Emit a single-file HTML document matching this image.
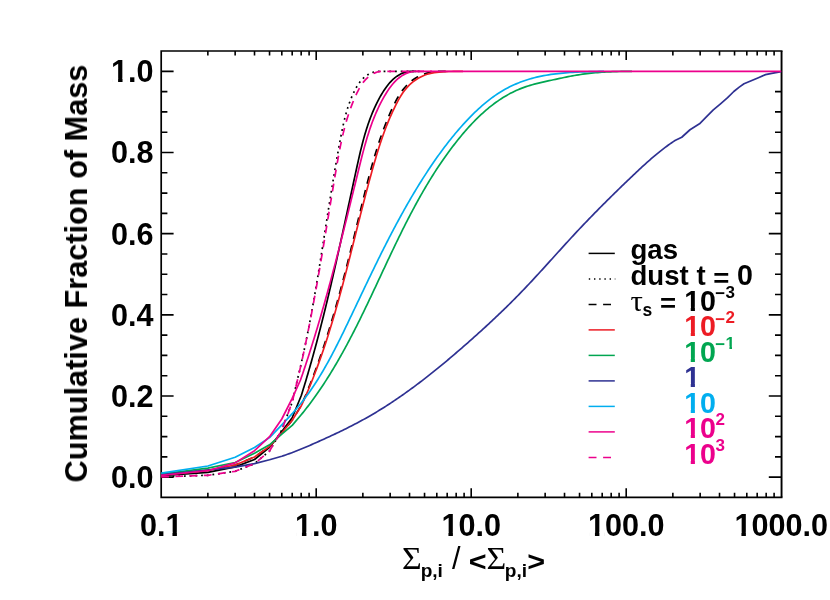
<!DOCTYPE html>
<html><head><meta charset="utf-8"><title>Cumulative Fraction of Mass</title>
<style>
html,body{margin:0;padding:0;background:#fff;}
body{width:830px;height:600px;overflow:hidden;}
svg{display:block;}
text{font-family:"Liberation Sans",sans-serif;font-weight:bold;font-kerning:none;}
.sym{font-family:"Liberation Serif",serif;font-weight:normal;}
</style></head><body>
<svg width="830" height="600" viewBox="0 0 830 600">
<rect x="0" y="0" width="830" height="600" fill="#fff"/>
<path d="M160.35 51.00H782.50M160.35 497.30H782.50M161.20 51.00V497.30" fill="none" stroke="#000" stroke-width="1.70"/>
<path d="M781.55 51.00V497.30" fill="none" stroke="#000" stroke-width="1.9"/>
<path d="M207.86 497.30v-4.50M207.86 51.00v4.50M235.15 497.30v-4.50M235.15 51.00v4.50M254.52 497.30v-4.50M254.52 51.00v4.50M269.54 497.30v-4.50M269.54 51.00v4.50M281.81 497.30v-4.50M281.81 51.00v4.50M292.19 497.30v-4.50M292.19 51.00v4.50M301.18 497.30v-4.50M301.18 51.00v4.50M309.11 497.30v-4.50M309.11 51.00v4.50M316.20 497.30v-9.00M316.20 51.00v9.00M362.86 497.30v-4.50M362.86 51.00v4.50M390.15 497.30v-4.50M390.15 51.00v4.50M409.52 497.30v-4.50M409.52 51.00v4.50M424.54 497.30v-4.50M424.54 51.00v4.50M436.81 497.30v-4.50M436.81 51.00v4.50M447.19 497.30v-4.50M447.19 51.00v4.50M456.18 497.30v-4.50M456.18 51.00v4.50M464.11 497.30v-4.50M464.11 51.00v4.50M471.20 497.30v-9.00M471.20 51.00v9.00M517.86 497.30v-4.50M517.86 51.00v4.50M545.15 497.30v-4.50M545.15 51.00v4.50M564.52 497.30v-4.50M564.52 51.00v4.50M579.54 497.30v-4.50M579.54 51.00v4.50M591.81 497.30v-4.50M591.81 51.00v4.50M602.19 497.30v-4.50M602.19 51.00v4.50M611.18 497.30v-4.50M611.18 51.00v4.50M619.11 497.30v-4.50M619.11 51.00v4.50M626.20 497.30v-9.00M626.20 51.00v9.00M672.86 497.30v-4.50M672.86 51.00v4.50M700.15 497.30v-4.50M700.15 51.00v4.50M719.52 497.30v-4.50M719.52 51.00v4.50M734.54 497.30v-4.50M734.54 51.00v4.50M746.81 497.30v-4.50M746.81 51.00v4.50M757.19 497.30v-4.50M757.19 51.00v4.50M766.18 497.30v-4.50M766.18 51.00v4.50M774.11 497.30v-4.50M774.11 51.00v4.50M161.20 477.17h12.40M781.20 477.17h-12.40M161.20 456.88h6.20M781.20 456.88h-6.20M161.20 436.59h6.20M781.20 436.59h-6.20M161.20 416.29h6.20M781.20 416.29h-6.20M161.20 396.00h12.40M781.20 396.00h-12.40M161.20 375.71h6.20M781.20 375.71h-6.20M161.20 355.42h6.20M781.20 355.42h-6.20M161.20 335.13h6.20M781.20 335.13h-6.20M161.20 314.83h12.40M781.20 314.83h-12.40M161.20 294.54h6.20M781.20 294.54h-6.20M161.20 274.25h6.20M781.20 274.25h-6.20M161.20 253.96h6.20M781.20 253.96h-6.20M161.20 233.67h12.40M781.20 233.67h-12.40M161.20 213.37h6.20M781.20 213.37h-6.20M161.20 193.08h6.20M781.20 193.08h-6.20M161.20 172.79h6.20M781.20 172.79h-6.20M161.20 152.50h12.40M781.20 152.50h-12.40M161.20 132.21h6.20M781.20 132.21h-6.20M161.20 111.91h6.20M781.20 111.91h-6.20M161.20 91.62h6.20M781.20 91.62h-6.20M161.20 71.33h12.40" stroke="#000" stroke-width="1.60" fill="none"/>
<g fill="none" stroke-width="1.70" stroke-linejoin="round">
<path d="M161.20 475.60L207.86 472.35L235.15 466.90L254.50 459.50L269.55 447.30L281.80 431.50L292.20 417.80L301.20 395.80L301.95 393.40L302.70 391.00L303.44 388.60L304.17 386.20L304.90 383.79L305.62 381.39L306.34 378.99L307.05 376.59L307.76 374.18L308.46 371.78L309.15 369.38L309.85 366.97L310.53 364.57L311.21 362.17L311.89 359.76L312.56 357.36L313.23 354.95L313.89 352.55L314.55 350.14L315.21 347.74L315.86 345.33L316.50 342.92L317.14 340.52L317.78 338.11L318.41 335.70L319.04 333.29L319.67 330.88L320.29 328.47L320.91 326.06L321.52 323.65L322.13 321.24L322.74 318.83L323.34 316.42L323.94 314.01L324.54 311.59L325.13 309.18L325.72 306.77L326.31 304.35L326.89 301.94L327.48 299.52L328.05 297.11L328.63 294.69L329.20 292.27L329.77 289.86L330.34 287.44L330.91 285.02L331.47 282.60L332.03 280.18L332.59 277.76L333.15 275.34L333.70 272.92L334.26 270.49L334.81 268.07L335.36 265.65L335.90 263.22L336.45 260.79L336.99 258.37L337.53 255.94L338.07 253.51L338.61 251.09L339.15 248.66L339.69 246.23L340.23 243.80L340.76 241.36L341.29 238.93L341.83 236.50L342.36 234.07L342.89 231.63L343.42 229.20L343.95 226.76L344.48 224.32L345.01 221.88L345.54 219.45L346.06 217.01L346.59 214.57L347.12 212.12L347.65 209.68L348.18 207.24L348.70 204.79L349.23 202.35L349.76 199.90L350.29 197.46L350.82 195.01L351.35 192.56L351.87 190.11L352.41 187.66L352.94 185.20L353.47 182.75L354.00 180.30L354.53 177.84L355.07 175.39L355.60 172.93L356.14 170.47L356.68 168.01L357.22 165.55L357.76 163.09L358.31 160.63L358.87 158.18L359.43 155.72L360.00 153.27L360.58 150.82L361.18 148.37L361.79 145.93L362.41 143.50L363.05 141.07L363.70 138.65L364.38 136.23L365.07 133.83L365.79 131.43L366.53 129.04L367.29 126.66L368.08 124.29L368.90 121.94L369.74 119.59L370.62 117.26L371.52 114.94L372.46 112.63L373.43 110.34L374.44 108.07L375.48 105.81L376.56 103.57L377.69 101.34L378.85 99.13L380.05 96.94L381.30 94.77L382.59 92.62L383.93 90.50L385.32 88.43L386.77 86.40L388.29 84.45L389.87 82.57L391.53 80.80L393.27 79.13L395.08 77.58L396.99 76.17L398.99 74.91L401.09 73.80L403.29 72.88L405.59 72.14L408.01 71.60L410.55 71.33L413.21 71.33L416.00 71.33" stroke="#000"/>
<path d="M161.20 476.80L207.86 475.30L235.15 471.30L254.50 463.70L269.55 451.00L281.80 430.00L292.20 402.20L297.30 380.00L297.83 377.82L298.36 375.64L298.88 373.47L299.40 371.29L299.91 369.11L300.42 366.92L300.92 364.74L301.41 362.56L301.90 360.38L302.39 358.19L302.87 356.01L303.35 353.82L303.82 351.64L304.29 349.45L304.75 347.26L305.21 345.08L305.67 342.89L306.12 340.70L306.56 338.51L307.00 336.32L307.44 334.13L307.88 331.94L308.31 329.75L308.73 327.56L309.16 325.36L309.58 323.17L309.99 320.98L310.41 318.78L310.82 316.59L311.22 314.39L311.63 312.20L312.03 310.00L312.42 307.81L312.82 305.61L313.21 303.41L313.60 301.22L313.99 299.02L314.37 296.82L314.75 294.62L315.13 292.42L315.51 290.22L315.88 288.02L316.25 285.82L316.62 283.62L316.99 281.42L317.36 279.22L317.72 277.02L318.08 274.82L318.44 272.62L318.80 270.41L319.16 268.21L319.52 266.01L319.87 263.81L320.23 261.60L320.58 259.40L320.93 257.20L321.28 254.99L321.63 252.79L321.98 250.58L322.33 248.38L322.68 246.17L323.02 243.97L323.37 241.76L323.71 239.56L324.06 237.35L324.41 235.15L324.75 232.94L325.10 230.74L325.44 228.53L325.79 226.33L326.13 224.12L326.48 221.91L326.82 219.71L327.17 217.50L327.51 215.30L327.86 213.09L328.21 210.88L328.56 208.68L328.91 206.47L329.26 204.26L329.61 202.06L329.96 199.85L330.31 197.65L330.67 195.44L331.02 193.23L331.38 191.03L331.74 188.82L332.10 186.62L332.46 184.41L332.82 182.20L333.19 180.00L333.55 177.79L333.92 175.59L334.29 173.38L334.67 171.18L335.04 168.97L335.42 166.77L335.80 164.56L336.18 162.36L336.57 160.16L336.95 157.95L337.34 155.75L337.73 153.54L338.13 151.34L338.53 149.14L338.93 146.94L339.33 144.73L339.74 142.53L340.15 140.33L340.57 138.13L340.99 135.93L341.41 133.73L341.85 131.53L342.29 129.33L342.75 127.14L343.23 124.96L343.72 122.77L344.23 120.59L344.76 118.42L345.31 116.26L345.89 114.10L346.49 111.95L347.12 109.81L347.79 107.67L348.48 105.55L349.21 103.44L349.98 101.33L350.79 99.24L351.63 97.16L352.52 95.10L353.46 93.04L354.44 91.01L355.48 89.01L356.57 87.05L357.73 85.15L358.97 83.32L360.28 81.57L361.67 79.91L363.15 78.36L364.73 76.93L366.40 75.63L368.18 74.47L370.07 73.46L372.06 72.61L374.15 71.92L376.31 71.39L378.54 71.33L380.83 71.33L383.18 71.33L385.57 71.33L388.00 71.33L424.00 71.33" stroke="#000" stroke-dasharray="1.8 3.9"/>
<path d="M161.20 475.00L207.86 470.40L235.15 465.00L254.50 457.00L269.55 446.40L281.80 433.00L292.20 420.30L301.20 405.50L302.59 402.34L303.96 399.17L305.31 395.99L306.63 392.80L307.94 389.61L309.24 386.41L310.51 383.20L311.76 379.98L313.00 376.76L314.22 373.53L315.42 370.30L316.61 367.06L317.78 363.81L318.94 360.56L320.07 357.30L321.20 354.03L322.31 350.76L323.40 347.49L324.48 344.21L325.55 340.92L326.61 337.63L327.65 334.34L328.68 331.04L329.69 327.73L330.70 324.43L331.69 321.11L332.67 317.80L333.64 314.48L334.60 311.15L335.56 307.83L336.50 304.50L337.43 301.17L338.35 297.83L339.27 294.49L340.17 291.15L341.07 287.81L341.96 284.46L342.85 281.11L343.73 277.76L344.60 274.41L345.46 271.06L346.32 267.70L347.18 264.35L348.03 260.99L348.87 257.63L349.71 254.27L350.55 250.91L351.38 247.55L352.21 244.19L353.04 240.83L353.87 237.47L354.69 234.11L355.51 230.75L356.33 227.39L357.15 224.03L357.97 220.67L358.79 217.32L359.61 213.96L360.43 210.61L361.25 207.25L362.07 203.90L362.90 200.55L363.72 197.20L364.55 193.86L365.38 190.51L366.22 187.17L367.07 183.83L367.93 180.50L368.80 177.17L369.68 173.84L370.57 170.52L371.48 167.20L372.41 163.88L373.35 160.57L374.32 157.26L375.30 153.96L376.31 150.66L377.34 147.37L378.40 144.09L379.49 140.81L380.60 137.54L381.75 134.27L382.93 131.01L384.14 127.76L385.38 124.51L386.67 121.27L387.99 118.04L389.34 114.82L390.74 111.60L392.19 108.40L393.69 105.22L395.26 102.09L396.91 99.02L398.65 96.03L400.50 93.13L402.46 90.35L404.56 87.71L406.80 85.21L409.20 82.88L411.76 80.73L414.50 78.78L417.41 77.05L420.48 75.52L423.67 74.21L426.97 73.12L430.36 72.25L433.83 71.60L437.35 71.33L440.89 71.33L444.45 71.33L448.00 71.33" stroke="#000" stroke-dasharray="7.8 6.4"/>
<path d="M161.20 475.00L207.86 470.40L235.15 465.00L254.50 457.00L269.55 446.40L281.80 433.00L292.20 420.30L301.20 406.00L302.19 403.83L303.18 401.65L304.15 399.47L305.11 397.28L306.06 395.10L307.00 392.90L307.93 390.71L308.85 388.51L309.76 386.31L310.66 384.11L311.55 381.90L312.43 379.69L313.30 377.47L314.17 375.26L315.02 373.04L315.86 370.81L316.70 368.59L317.52 366.36L318.34 364.13L319.15 361.89L319.95 359.66L320.74 357.42L321.53 355.18L322.30 352.93L323.07 350.69L323.83 348.44L324.59 346.18L325.34 343.93L326.08 341.67L326.81 339.42L327.54 337.16L328.25 334.89L328.97 332.63L329.68 330.36L330.38 328.09L331.07 325.82L331.76 323.55L332.44 321.27L333.12 318.99L333.79 316.72L334.46 314.44L335.12 312.15L335.78 309.87L336.43 307.59L337.08 305.30L337.72 303.01L338.36 300.72L339.00 298.43L339.63 296.14L340.25 293.84L340.88 291.55L341.49 289.25L342.11 286.95L342.72 284.66L343.33 282.36L343.94 280.05L344.54 277.75L345.14 275.45L345.74 273.15L346.34 270.84L346.93 268.54L347.52 266.23L348.11 263.92L348.70 261.62L349.29 259.31L349.87 257.00L350.46 254.69L351.04 252.38L351.62 250.07L352.20 247.76L352.78 245.45L353.36 243.14L353.94 240.83L354.52 238.52L355.09 236.21L355.67 233.90L356.25 231.59L356.83 229.27L357.41 226.96L357.99 224.65L358.57 222.34L359.15 220.03L359.73 217.72L360.32 215.41L360.90 213.10L361.49 210.79L362.08 208.48L362.67 206.17L363.26 203.86L363.86 201.56L364.45 199.25L365.05 196.94L365.65 194.64L366.26 192.33L366.87 190.03L367.48 187.72L368.09 185.42L368.71 183.12L369.33 180.82L369.95 178.52L370.58 176.22L371.21 173.93L371.85 171.63L372.49 169.34L373.13 167.04L373.78 164.75L374.44 162.46L375.10 160.17L375.78 157.89L376.45 155.61L377.14 153.33L377.84 151.05L378.55 148.78L379.27 146.51L380.00 144.24L380.75 141.98L381.51 139.73L382.28 137.48L383.07 135.23L383.87 132.99L384.69 130.75L385.53 128.53L386.38 126.30L387.26 124.09L388.15 121.88L389.07 119.67L390.00 117.48L390.96 115.29L391.94 113.11L392.95 110.94L393.97 108.78L395.03 106.62L396.11 104.48L397.21 102.34L398.35 100.22L399.52 98.12L400.74 96.05L402.02 94.04L403.35 92.07L404.76 90.18L406.25 88.36L407.81 86.61L409.45 84.95L411.15 83.38L412.93 81.89L414.78 80.50L416.69 79.20L418.67 78.01L420.71 76.92L422.81 75.93L424.97 75.06L427.19 74.30L429.47 73.66L431.80 73.12L434.17 72.68L436.57 72.33L438.99 72.05L441.44 71.84L443.89 71.69L446.35 71.59L448.81 71.52L451.25 71.48L453.67 71.45L456.06 71.44L458.42 71.42L460.74 71.39L463.00 71.33" stroke="#ed1c24"/>
<path d="M161.20 474.00L207.86 468.10L235.15 462.50L254.50 453.20L269.55 444.80L281.80 434.20L292.20 425.40L301.20 414.80L302.56 413.13L303.90 411.45L305.23 409.77L306.55 408.08L307.86 406.38L309.16 404.67L310.45 402.96L311.72 401.24L312.99 399.51L314.24 397.78L315.49 396.04L316.72 394.29L317.94 392.54L319.16 390.78L320.36 389.01L321.55 387.24L322.74 385.46L323.91 383.68L325.08 381.89L326.24 380.10L327.38 378.30L328.52 376.49L329.65 374.68L330.78 372.86L331.89 371.04L333.00 369.21L334.10 367.38L335.19 365.54L336.27 363.70L337.35 361.85L338.41 360.00L339.48 358.15L340.53 356.29L341.58 354.42L342.62 352.56L343.65 350.68L344.68 348.81L345.71 346.93L346.72 345.04L347.73 343.16L348.74 341.26L349.74 339.37L350.73 337.47L351.72 335.57L352.71 333.67L353.69 331.76L354.66 329.85L355.63 327.94L356.60 326.02L357.56 324.10L358.52 322.18L359.47 320.26L360.42 318.33L361.37 316.40L362.31 314.47L363.25 312.54L364.19 310.61L365.13 308.67L366.06 306.73L366.99 304.79L367.92 302.85L368.84 300.91L369.76 298.97L370.68 297.02L371.60 295.08L372.52 293.13L373.44 291.18L374.35 289.23L375.27 287.29L376.18 285.34L377.09 283.39L378.01 281.43L378.92 279.48L379.83 277.53L380.74 275.58L381.65 273.63L382.56 271.68L383.47 269.73L384.39 267.78L385.30 265.83L386.21 263.88L387.13 261.93L388.04 259.98L388.96 258.03L389.88 256.09L390.80 254.14L391.73 252.20L392.65 250.25L393.58 248.31L394.51 246.37L395.44 244.43L396.37 242.50L397.31 240.56L398.25 238.63L399.19 236.70L400.14 234.77L401.09 232.84L402.04 230.92L403.00 228.99L403.96 227.07L404.93 225.15L405.90 223.24L406.87 221.33L407.85 219.42L408.84 217.51L409.83 215.61L410.82 213.71L411.82 211.81L412.82 209.92L413.83 208.03L414.85 206.14L415.87 204.26L416.90 202.38L417.93 200.51L418.97 198.63L420.02 196.77L421.07 194.91L422.14 193.05L423.20 191.19L424.28 189.34L425.36 187.50L426.45 185.66L427.55 183.82L428.65 181.99L429.77 180.17L430.89 178.35L432.02 176.53L433.16 174.72L434.30 172.92L435.46 171.12L436.62 169.33L437.80 167.54L438.98 165.76L440.17 163.98L441.38 162.21L442.59 160.45L443.81 158.69L445.04 156.94L446.29 155.20L447.54 153.46L448.80 151.73L450.08 150.00L451.36 148.28L452.66 146.57L453.97 144.87L455.29 143.17L456.62 141.48L457.96 139.80L459.32 138.13L460.68 136.46L462.06 134.80L463.45 133.16L464.86 131.52L466.28 129.89L467.71 128.28L469.15 126.68L470.61 125.10L472.08 123.53L473.57 121.97L475.07 120.43L476.59 118.91L478.12 117.41L479.67 115.92L481.23 114.46L482.81 113.01L484.40 111.59L486.01 110.19L487.64 108.81L489.28 107.46L490.94 106.13L492.62 104.82L494.31 103.55L496.03 102.30L497.76 101.07L499.51 99.88L501.27 98.71L503.06 97.58L504.86 96.48L506.69 95.41L508.53 94.37L510.40 93.36L512.28 92.39L514.18 91.46L516.11 90.56L518.05 89.70L520.02 88.87L522.00 88.09L524.01 87.34L526.04 86.63L528.09 85.96L530.15 85.33L532.23 84.72L534.33 84.15L536.43 83.60L538.55 83.07L540.67 82.56L542.80 82.07L544.93 81.59L547.06 81.13L549.19 80.67L551.32 80.22L553.45 79.77L555.56 79.32L557.67 78.87L559.78 78.43L561.87 77.98L563.97 77.54L566.06 77.11L568.15 76.69L570.24 76.28L572.33 75.88L574.42 75.50L576.52 75.14L578.62 74.80L580.72 74.49L582.83 74.19L584.94 73.90L587.05 73.64L589.17 73.39L591.29 73.17L593.42 72.95L595.55 72.76L597.68 72.58L599.81 72.41L601.94 72.26L604.08 72.12L606.22 72.00L608.36 71.89L610.50 71.79L612.65 71.70L614.80 71.62L616.94 71.56L619.09 71.50L621.24 71.45L623.39 71.41L625.54 71.38L627.70 71.36L629.85 71.34L632.00 71.33" stroke="#00a651"/>
<path d="M161.20 474.60L207.86 470.00L235.15 467.10L254.50 463.60L269.55 459.80L281.80 456.20L283.71 455.58L285.61 454.95L287.50 454.29L289.38 453.62L291.26 452.94L293.13 452.24L294.99 451.53L296.85 450.80L298.70 450.06L300.55 449.32L302.39 448.56L304.23 447.79L306.06 447.01L307.90 446.22L309.73 445.43L311.55 444.63L313.38 443.82L315.20 443.01L317.03 442.20L318.85 441.38L320.67 440.56L322.49 439.74L324.31 438.91L326.13 438.08L327.95 437.25L329.77 436.41L331.58 435.57L333.40 434.72L335.21 433.87L337.02 433.01L338.82 432.15L340.63 431.28L342.43 430.41L344.22 429.53L346.02 428.64L347.81 427.75L349.60 426.85L351.38 425.95L353.16 425.03L354.94 424.11L356.71 423.18L358.47 422.25L360.23 421.30L361.99 420.35L363.74 419.38L365.48 418.41L367.22 417.43L368.96 416.44L370.69 415.45L372.41 414.44L374.13 413.43L375.84 412.40L377.55 411.37L379.25 410.33L380.95 409.28L382.64 408.23L384.33 407.17L386.01 406.10L387.69 405.02L389.36 403.93L391.03 402.84L392.69 401.74L394.35 400.63L396.01 399.51L397.65 398.39L399.30 397.26L400.94 396.13L402.58 394.99L404.21 393.84L405.84 392.68L407.46 391.52L409.08 390.35L410.69 389.18L412.31 388.00L413.91 386.82L415.52 385.63L417.11 384.43L418.71 383.23L420.30 382.02L421.89 380.81L423.47 379.59L425.05 378.37L426.63 377.14L428.20 375.91L429.77 374.67L431.34 373.43L432.90 372.18L434.46 370.93L436.02 369.67L437.57 368.42L439.12 367.15L440.67 365.88L442.21 364.61L443.75 363.34L445.29 362.06L446.83 360.78L448.36 359.49L449.89 358.20L451.42 356.91L452.94 355.62L454.46 354.32L455.98 353.02L457.50 351.71L459.01 350.41L460.52 349.10L462.03 347.79L463.54 346.47L465.04 345.16L466.55 343.84L468.05 342.52L469.54 341.20L471.04 339.87L472.53 338.55L474.02 337.22L475.51 335.89L477.00 334.55L478.48 333.22L479.97 331.88L481.44 330.54L482.92 329.20L484.39 327.85L485.87 326.50L487.34 325.15L488.80 323.80L490.26 322.44L491.73 321.08L493.18 319.71L494.64 318.35L496.09 316.98L497.54 315.60L498.98 314.23L500.43 312.84L501.87 311.46L503.30 310.07L504.74 308.68L506.16 307.29L507.59 305.89L509.01 304.49L510.43 303.08L511.85 301.67L513.26 300.26L514.67 298.84L516.07 297.42L517.47 296.00L518.87 294.57L520.26 293.14L521.65 291.70L523.03 290.26L524.41 288.82L525.79 287.37L527.16 285.92L528.53 284.47L529.90 283.02L531.27 281.56L532.63 280.10L533.99 278.63L535.34 277.17L536.70 275.70L538.05 274.23L539.40 272.76L540.75 271.28L542.10 269.81L543.44 268.33L544.79 266.85L546.13 265.37L547.48 263.89L548.82 262.41L550.16 260.93L551.50 259.45L552.84 257.97L554.18 256.49L555.52 255.01L556.86 253.53L558.20 252.04L559.54 250.56L560.89 249.08L562.23 247.60L563.57 246.13L564.92 244.65L566.27 243.17L567.61 241.70L568.96 240.23L570.32 238.76L571.67 237.29L573.03 235.82L574.38 234.36L575.74 232.90L577.11 231.44L578.47 229.98L579.84 228.53L581.21 227.08L582.59 225.63L583.97 224.18L585.35 222.74L586.73 221.30L588.11 219.86L589.50 218.42L590.89 216.99L592.28 215.56L593.68 214.13L595.07 212.70L596.47 211.28L597.87 209.86L599.28 208.44L600.68 207.02L602.09 205.60L603.50 204.19L604.91 202.78L606.33 201.37L607.74 199.96L609.16 198.55L610.58 197.15L612.00 195.75L613.43 194.35L614.85 192.95L616.28 191.55L617.71 190.15L619.14 188.76L620.57 187.37L622.01 185.98L623.45 184.59L624.88 183.20L626.32 181.81L627.76 180.43L629.21 179.04L630.65 177.66L632.09 176.28L633.54 174.90L634.99 173.53L636.45 172.15L637.90 170.79L639.36 169.42L640.83 168.06L642.30 166.71L643.77 165.36L645.25 164.02L646.73 162.68L648.23 161.36L649.73 160.04L651.23 158.73L652.75 157.43L654.27 156.14L655.80 154.85L657.34 153.59L658.89 152.33L660.45 151.08L662.02 149.85L663.60 148.63L665.19 147.42L666.79 146.23L668.41 145.05L670.04 143.89L671.68 142.74L673.33 141.61L675.00 140.50L681.75 137.25L690.00 129.75L699.50 123.80L706.10 117.10L713.30 109.90L720.50 103.80L727.60 97.65L733.80 91.50L738.90 87.40L744.00 83.80L751.20 80.75L758.40 77.70L765.50 74.60L771.70 73.30L779.90 71.85L781.20 71.60" stroke="#2e3192"/>
<path d="M161.20 473.20L207.86 466.00L235.15 457.20L254.50 447.50L269.55 437.60L281.80 424.90L292.20 413.70L301.20 403.00L302.69 401.11L304.16 399.20L305.61 397.29L307.03 395.35L308.44 393.41L309.83 391.45L311.20 389.47L312.55 387.49L313.89 385.49L315.21 383.48L316.51 381.46L317.80 379.43L319.07 377.39L320.32 375.34L321.56 373.28L322.79 371.21L324.00 369.13L325.20 367.04L326.39 364.94L327.57 362.84L328.73 360.73L329.88 358.61L331.03 356.48L332.16 354.35L333.28 352.21L334.40 350.07L335.50 347.92L336.60 345.76L337.69 343.61L338.78 341.44L339.86 339.28L340.93 337.11L342.00 334.93L343.06 332.76L344.12 330.58L345.17 328.40L346.22 326.22L347.27 324.03L348.31 321.85L349.36 319.66L350.40 317.48L351.44 315.30L352.48 313.11L353.52 310.93L354.56 308.74L355.60 306.56L356.64 304.37L357.67 302.19L358.71 300.01L359.75 297.83L360.79 295.64L361.83 293.46L362.86 291.28L363.90 289.10L364.94 286.92L365.98 284.75L367.03 282.57L368.07 280.39L369.12 278.22L370.16 276.05L371.21 273.88L372.26 271.70L373.31 269.54L374.37 267.37L375.43 265.20L376.49 263.04L377.55 260.88L378.61 258.71L379.68 256.56L380.75 254.40L381.83 252.24L382.91 250.09L383.99 247.94L385.07 245.79L386.16 243.65L387.26 241.50L388.36 239.36L389.46 237.22L390.57 235.09L391.68 232.95L392.79 230.82L393.92 228.70L395.04 226.57L396.18 224.45L397.31 222.33L398.46 220.22L399.61 218.10L400.76 215.99L401.92 213.89L403.09 211.79L404.26 209.69L405.45 207.59L406.63 205.50L407.83 203.41L409.03 201.33L410.24 199.25L411.45 197.17L412.68 195.10L413.91 193.03L415.15 190.97L416.39 188.91L417.65 186.85L418.91 184.80L420.18 182.75L421.47 180.71L422.75 178.67L424.05 176.64L425.36 174.61L426.68 172.59L428.00 170.57L429.34 168.55L430.68 166.54L432.04 164.54L433.40 162.54L434.78 160.55L436.17 158.57L437.56 156.59L438.97 154.62L440.39 152.66L441.83 150.71L443.27 148.76L444.73 146.83L446.19 144.90L447.67 142.98L449.17 141.07L450.67 139.18L452.19 137.29L453.73 135.42L455.27 133.55L456.83 131.70L458.41 129.86L460.00 128.04L461.60 126.22L463.22 124.42L464.86 122.64L466.51 120.86L468.17 119.11L469.85 117.36L471.55 115.64L473.26 113.92L474.99 112.23L476.74 110.56L478.51 108.91L480.29 107.28L482.10 105.68L483.92 104.11L485.77 102.56L487.63 101.05L489.52 99.57L491.43 98.12L493.36 96.71L495.32 95.33L497.30 94.00L499.30 92.70L501.33 91.45L503.38 90.23L505.46 89.06L507.55 87.94L509.67 86.85L511.82 85.81L513.98 84.81L516.16 83.85L518.36 82.93L520.59 82.06L522.83 81.23L525.09 80.45L527.36 79.71L529.66 79.01L531.97 78.35L534.30 77.74L536.64 77.16L538.99 76.62L541.36 76.12L543.73 75.66L546.12 75.23L548.52 74.83L550.92 74.46L553.33 74.13L555.75 73.82L558.17 73.54L560.60 73.29L563.02 73.06L565.46 72.85L567.89 72.66L570.32 72.50L572.76 72.35L575.19 72.22L577.62 72.10L580.05 71.99L582.47 71.90L584.90 71.82L587.31 71.75L589.72 71.68L592.12 71.62L594.52 71.56L596.90 71.50L599.28 71.45L601.65 71.39L604.00 71.33" stroke="#00aeef"/>
<path d="M161.20 475.30L207.86 470.70L235.15 462.90L254.50 450.70L269.55 436.70L281.80 419.00L292.20 398.40L300.50 380.00L301.34 377.58L302.17 375.15L303.00 372.72L303.82 370.30L304.63 367.87L305.44 365.44L306.24 363.01L307.04 360.58L307.83 358.15L308.62 355.72L309.40 353.28L310.18 350.85L310.95 348.41L311.72 345.98L312.48 343.54L313.24 341.10L313.99 338.67L314.74 336.23L315.49 333.79L316.23 331.35L316.96 328.90L317.69 326.46L318.42 324.02L319.14 321.57L319.86 319.13L320.57 316.68L321.28 314.24L321.99 311.79L322.69 309.34L323.39 306.89L324.09 304.44L324.78 301.99L325.47 299.54L326.15 297.08L326.83 294.63L327.51 292.18L328.18 289.72L328.86 287.27L329.52 284.81L330.19 282.35L330.85 279.89L331.51 277.44L332.17 274.98L332.82 272.52L333.48 270.05L334.13 267.59L334.77 265.13L335.42 262.67L336.06 260.20L336.70 257.74L337.34 255.27L337.97 252.80L338.61 250.34L339.24 247.87L339.87 245.40L340.50 242.93L341.13 240.46L341.75 237.99L342.38 235.52L343.00 233.04L343.62 230.57L344.24 228.10L344.86 225.62L345.47 223.15L346.09 220.67L346.71 218.19L347.32 215.72L347.93 213.24L348.55 210.76L349.16 208.28L349.77 205.80L350.38 203.32L350.99 200.83L351.60 198.35L352.21 195.87L352.82 193.38L353.43 190.90L354.04 188.41L354.65 185.93L355.26 183.44L355.87 180.95L356.48 178.47L357.09 175.98L357.70 173.49L358.31 171.00L358.92 168.51L359.54 166.02L360.15 163.52L360.77 161.03L361.40 158.55L362.03 156.06L362.67 153.58L363.32 151.10L363.99 148.62L364.66 146.15L365.35 143.68L366.06 141.22L366.78 138.77L367.52 136.32L368.28 133.88L369.06 131.45L369.86 129.03L370.69 126.62L371.54 124.22L372.42 121.83L373.33 119.45L374.27 117.08L375.24 114.72L376.24 112.38L377.27 110.05L378.34 107.74L379.45 105.44L380.60 103.16L381.78 100.89L383.01 98.65L384.28 96.41L385.59 94.20L386.95 92.01L388.36 89.86L389.83 87.76L391.36 85.72L392.96 83.76L394.63 81.89L396.38 80.13L398.22 78.48L400.14 76.97L402.16 75.60L404.28 74.39L406.50 73.35L408.83 72.49L411.26 71.83L413.79 71.37L416.42 71.33L419.16 71.33L422.00 71.33L781.20 71.33" stroke="#ec008c"/>
<path d="M161.20 476.80L207.86 475.30L235.15 471.30L254.50 463.70L269.55 451.00L281.80 430.00L292.20 402.20L297.50 380.00L298.12 377.40L298.73 374.80L299.33 372.20L299.93 369.60L300.52 366.99L301.11 364.39L301.69 361.79L302.26 359.18L302.83 356.58L303.40 353.97L303.96 351.36L304.52 348.76L305.07 346.15L305.61 343.54L306.15 340.93L306.69 338.32L307.22 335.71L307.75 333.10L308.27 330.48L308.79 327.87L309.31 325.26L309.82 322.64L310.33 320.03L310.83 317.41L311.33 314.80L311.82 312.18L312.32 309.56L312.81 306.95L313.29 304.33L313.78 301.71L314.25 299.09L314.73 296.47L315.20 293.85L315.68 291.23L316.14 288.61L316.61 285.99L317.07 283.36L317.53 280.74L317.99 278.12L318.45 275.50L318.90 272.87L319.35 270.25L319.80 267.62L320.25 265.00L320.70 262.37L321.14 259.75L321.58 257.12L322.03 254.49L322.47 251.87L322.91 249.24L323.34 246.61L323.78 243.99L324.22 241.36L324.65 238.73L325.09 236.10L325.52 233.47L325.95 230.84L326.39 228.21L326.82 225.59L327.25 222.96L327.68 220.33L328.12 217.70L328.55 215.07L328.98 212.43L329.41 209.80L329.85 207.17L330.28 204.54L330.71 201.91L331.15 199.28L331.58 196.65L332.02 194.02L332.46 191.39L332.89 188.75L333.33 186.12L333.77 183.49L334.21 180.86L334.66 178.23L335.10 175.59L335.55 172.96L336.00 170.33L336.45 167.70L336.90 165.07L337.36 162.44L337.82 159.81L338.29 157.18L338.77 154.55L339.26 151.93L339.77 149.31L340.28 146.69L340.81 144.08L341.36 141.47L341.93 138.86L342.51 136.26L343.12 133.67L343.75 131.08L344.40 128.50L345.07 125.92L345.78 123.35L346.51 120.79L347.27 118.23L348.07 115.69L348.89 113.15L349.75 110.62L350.65 108.10L351.58 105.60L352.55 103.10L353.56 100.61L354.62 98.14L355.71 95.67L356.85 93.22L358.05 90.80L359.32 88.44L360.66 86.14L362.10 83.94L363.64 81.84L365.29 79.88L367.06 78.06L368.97 76.40L371.02 74.94L373.23 73.67L375.59 72.63L378.07 71.80L380.68 71.33L383.39 71.33L386.19 71.33L389.06 71.33L392.00 71.33L432.00 71.33" stroke="#ec008c" stroke-dasharray="7.8 6.4"/>
</g>
<g opacity="0.999">
<g font-size="30.6" fill="#000">
<text x="153.6" y="488.07" text-anchor="end">0.0</text>
<text x="153.6" y="406.90" text-anchor="end">0.2</text>
<text x="153.6" y="325.73" text-anchor="end">0.4</text>
<text x="153.6" y="244.57" text-anchor="end">0.6</text>
<text x="153.6" y="163.40" text-anchor="end">0.8</text>
<text x="153.6" y="82.23" text-anchor="end">1.0</text>
<text x="161.20" y="536.2" text-anchor="middle">0.1</text>
<text x="316.20" y="536.2" text-anchor="middle">1.0</text>
<text x="471.20" y="536.2" text-anchor="middle">10.0</text>
<text x="626.20" y="536.2" text-anchor="middle">100.0</text>
<text x="781.20" y="536.2" text-anchor="middle">1000.0</text>
</g>
<text font-size="30.7" text-anchor="middle" transform="translate(87 273.5) rotate(-90)">Cumulative Fraction of Mass</text>
<text class="sym" font-size="31.3" transform="translate(401.98 569.40) scale(1.083 1)">&#931;</text>
<text font-size="19.1" x="420.64" y="576.50">p,i</text>
<text font-size="30.6" style="font-weight:normal" x="452.00" y="569.40">/</text>
<text font-size="30.6" transform="translate(468.77 571.04) scale(1 0.88)">&lt;</text>
<text class="sym" font-size="31.3" transform="translate(486.38 569.40) scale(1.083 1)">&#931;</text>
<text font-size="19.1" x="504.74" y="576.50">p,i</text>
<text font-size="30.6" transform="translate(527.37 571.04) scale(1 0.88)">&gt;</text>
<g fill="none" stroke-width="1.50">
<path d="M588.6 253.40H614.8" stroke="#000"/>
<path d="M588.8 278.90H615.3" stroke="#000" stroke-width="1.5" stroke-dasharray="1.4 3.8"/>
<path d="M588.6 304.40H614.8" stroke="#000" stroke-dasharray="7.9 6.6"/>
<path d="M588.6 329.90H614.8" stroke="#ed1c24"/>
<path d="M588.6 355.40H614.8" stroke="#00a651"/>
<path d="M588.6 380.90H614.8" stroke="#2e3192"/>
<path d="M588.6 406.40H614.8" stroke="#00aeef"/>
<path d="M588.6 431.90H614.8" stroke="#ec008c"/>
<path d="M588.6 457.40H614.8" stroke="#ec008c" stroke-dasharray="7.9 6.6"/>
</g>
<g font-size="27.6">
<text x="630.5" y="258.50" fill="#000">gas</text>
<text x="630.5" y="284.70" fill="#000">dust t</text>
<text transform="translate(713.29 286.50) scale(1 0.92)" fill="#000">=</text>
<text font-size="28.6" x="736.9" y="284.90" fill="#000">0</text>
<text class="sym" font-size="28.6" transform="translate(630.4 310.50) scale(1.08 1)">&#964;</text>
<text font-size="17.5" x="642.5" y="315.90" fill="#000">s</text>
<text transform="translate(659.95 312.30) scale(1 0.92)" fill="#000">=</text>
<text font-size="28.6" x="684.2" y="310.50" fill="#000">10<tspan font-size="17.0" dy="-11.4" dx="-0.7">&#8722;</tspan><tspan font-size="17.0" dy="-1.6" dx="0.3">3</tspan></text>
<text font-size="28.6" x="684.2" y="336.00" fill="#ed1c24">10<tspan font-size="17.0" dy="-11.4" dx="-0.7">&#8722;</tspan><tspan font-size="17.0" dy="-1.6" dx="0.3">2</tspan></text>
<text font-size="28.6" x="684.2" y="361.50" fill="#00a651">10<tspan font-size="17.0" dy="-11.4" dx="-0.7">&#8722;</tspan><tspan font-size="17.0" dy="-1.6" dx="0.3">1</tspan></text>
<text font-size="28.6" x="684.2" y="387.00" fill="#2e3192">1</text>
<text font-size="28.6" x="684.2" y="412.50" fill="#00aeef">10</text>
<text font-size="28.6" x="684.2" y="438.00" fill="#ec008c">10<tspan font-size="17.0" dy="-13" dx="-0.6">2</tspan></text>
<text font-size="28.6" x="684.2" y="463.50" fill="#ec008c">10<tspan font-size="17.0" dy="-13" dx="-0.6">3</tspan></text>
</g>
</g>
<g fill="#fff"><rect x="112.40" y="77.90" width="5.69" height="4.82"/><rect x="122.53" y="77.90" width="5.31" height="4.82"/><rect x="166.76" y="531.90" width="5.70" height="4.83"/><rect x="176.90" y="531.90" width="5.31" height="4.83"/><rect x="296.26" y="531.87" width="5.69" height="4.82"/><rect x="306.39" y="531.87" width="5.31" height="4.82"/><rect x="442.75" y="531.87" width="5.69" height="4.82"/><rect x="452.89" y="531.87" width="5.31" height="4.82"/><rect x="589.25" y="531.87" width="5.69" height="4.82"/><rect x="599.38" y="531.87" width="5.31" height="4.82"/><rect x="735.74" y="531.87" width="5.69" height="4.82"/><rect x="745.87" y="531.87" width="5.31" height="4.82"/><rect x="685.40" y="306.57" width="5.35" height="4.62"/><rect x="694.92" y="306.57" width="4.99" height="4.62"/><rect x="685.40" y="332.07" width="5.35" height="4.62"/><rect x="694.92" y="332.07" width="4.99" height="4.62"/><rect x="685.40" y="357.57" width="5.35" height="4.62"/><rect x="694.92" y="357.57" width="4.99" height="4.62"/><rect x="726.02" y="346.28" width="3.38" height="3.44"/><rect x="731.98" y="346.28" width="3.17" height="3.44"/><rect x="685.40" y="383.07" width="5.35" height="4.62"/><rect x="694.92" y="383.07" width="4.99" height="4.62"/><rect x="685.40" y="408.57" width="5.35" height="4.62"/><rect x="694.92" y="408.57" width="4.99" height="4.62"/><rect x="685.40" y="434.07" width="5.35" height="4.62"/><rect x="694.92" y="434.07" width="4.99" height="4.62"/><rect x="685.40" y="459.57" width="5.35" height="4.62"/><rect x="694.92" y="459.57" width="4.99" height="4.62"/></g>
</svg></body></html>
